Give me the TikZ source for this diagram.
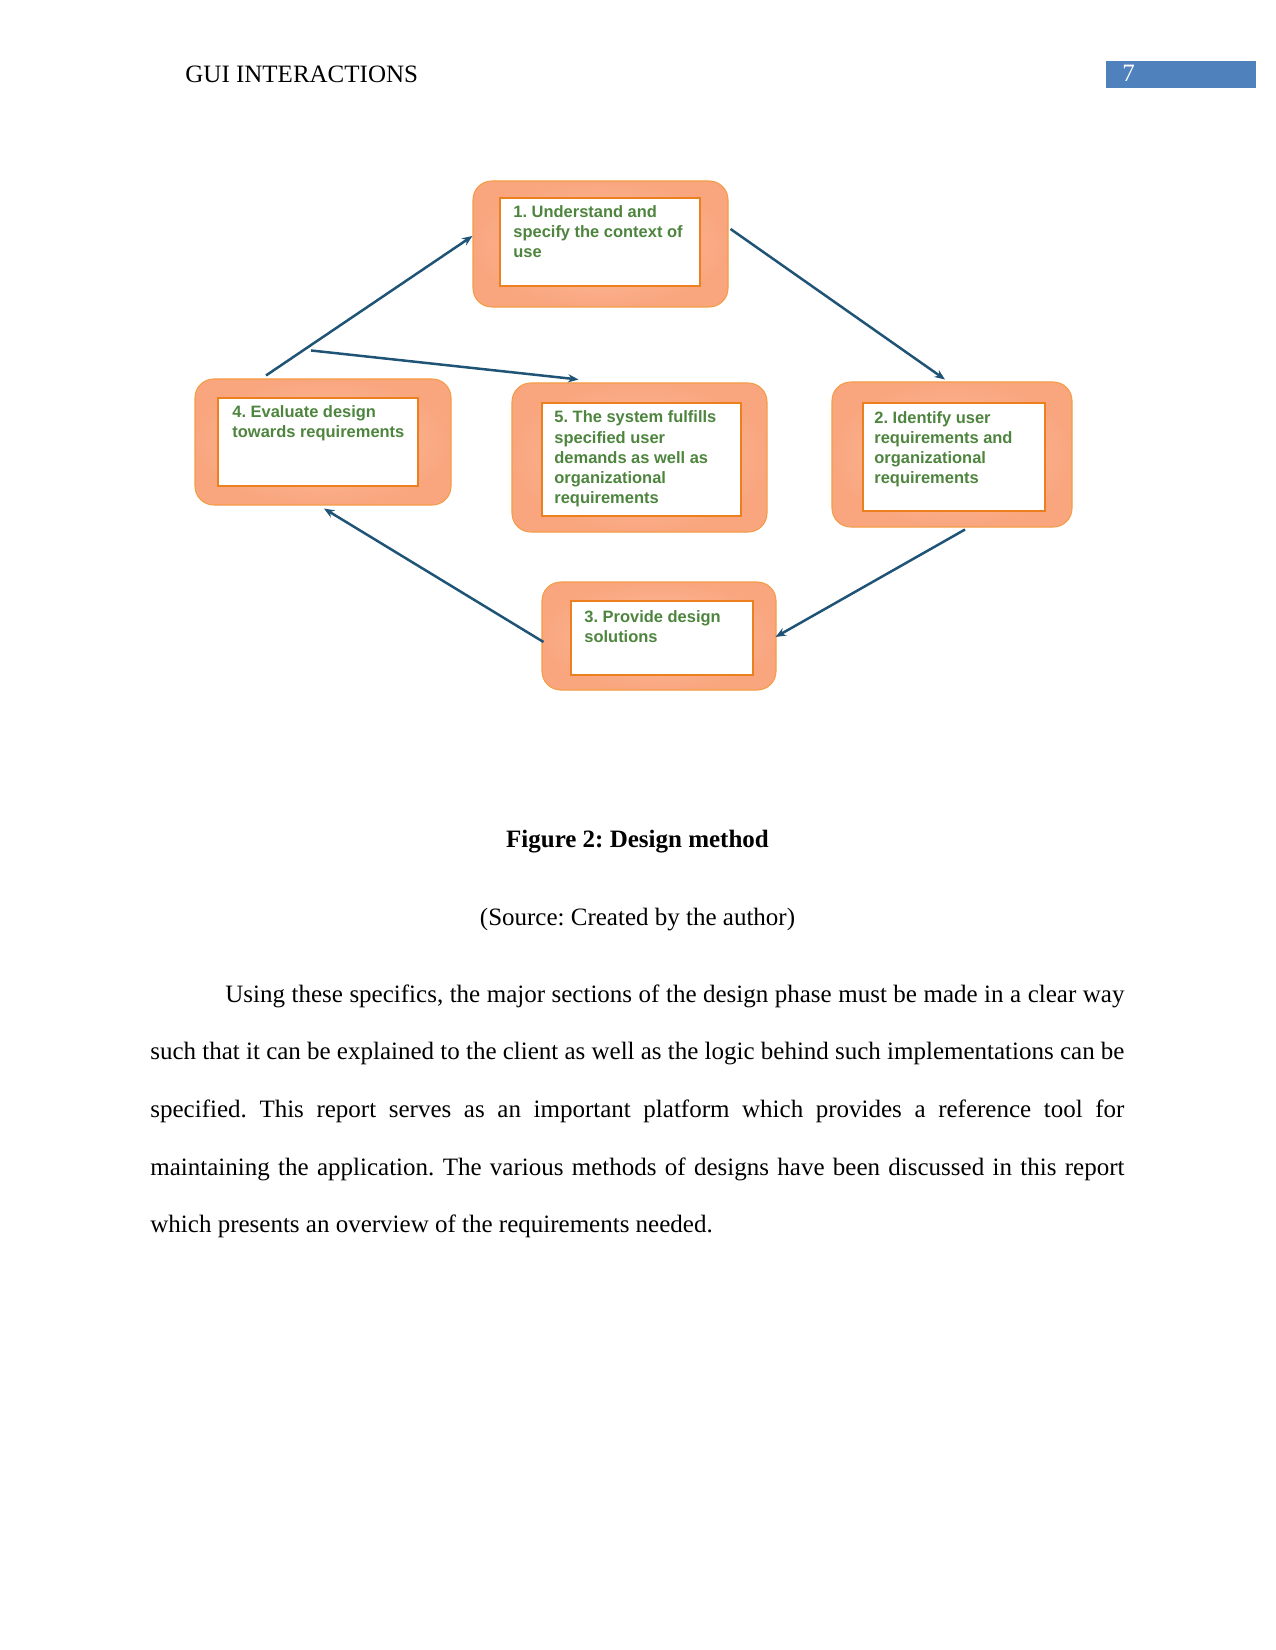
\documentclass[tikz,border=0pt]{standalone}
\usepackage{fontspec}
\setmainfont{Liberation Serif}
\newfontfamily\arialfont{Liberation Sans}
\usetikzlibrary{positioning,arrows.meta,calc}
\definecolor{salmonin}{RGB}{252,193,160}
\definecolor{salmonout}{RGB}{249,166,127}
\definecolor{boxline}{RGB}{243,156,70}
\definecolor{innerline}{RGB}{236,128,30}
\definecolor{stepgreen}{RGB}{78,133,62}
\definecolor{flowblue}{RGB}{31,84,118}
\definecolor{pageblue}{RGB}{79,129,189}
\frenchspacing
\begin{document}
\begin{tikzpicture}[
  x=0.48pt, y=-0.48pt,
  outerbox/.style={draw=boxline,line width=0.5pt,inner color=salmonin,outer color=salmonout,rounded corners=9pt,inner sep=0pt},
  innerbox/.style={draw=innerline,line width=0.8pt,fill=white,anchor=north west,inner sep=0pt},
  steptext/.style={anchor=base west,inner sep=0pt,align=left,text=stepgreen,font=\arialfont\bfseries\fontsize{7.9}{9.6}\selectfont},
  flow/.style={->,draw=flowblue,line width=1.2pt},
  body/.style={font=\fontsize{12}{27.7}\selectfont,inner sep=0pt},
  >={Stealth[length=5pt,width=4pt]}
]
\useasboundingbox (0,0) rectangle (1275,1650);

% page header
\node[body,anchor=base west] (head) at (185,83) {GUI INTERACTIONS};
\node[fill=pageblue,anchor=north west,minimum width=72pt,minimum height=12.96pt,inner sep=0pt] (pgbox) at (1106,61) {};
\node[body,text=white,anchor=base west] (pgnum) at (1122,82) {7};

% design cycle
\node[outerbox,minimum width=122.4pt,minimum height=60.48pt] (o1) at (600.5,244) {};
\node[outerbox,minimum width=115.2pt,minimum height=69.6pt] (o2) at (952,454.5) {};
\node[outerbox,minimum width=112.32pt,minimum height=51.84pt] (o3) at (659,636) {};
\node[outerbox,minimum width=122.88pt,minimum height=60.48pt] (o4) at (323,442) {};
\node[outerbox,minimum width=122.4pt,minimum height=71.52pt] (o5) at (639.5,457.5) {};

\node[innerbox,minimum width=96pt,minimum height=42.24pt] (i1) at (499,197) {};
\node[innerbox,minimum width=87.36pt,minimum height=51.84pt] (i2) at (862,402) {};
\node[innerbox,minimum width=87.36pt,minimum height=35.52pt] (i3) at (570,600) {};
\node[innerbox,minimum width=96pt,minimum height=42.24pt] (i4) at (217,397) {};
\node[innerbox,minimum width=95.52pt,minimum height=54.24pt] (i5) at (541,402) {};

% base = last line
\node[steptext] (t1) at (513,258) {1. Understand and\\specify the context of\\use};
\node[steptext] (t2) at (874,483) {2. Identify user\\requirements and\\organizational\\requirements};
\node[steptext] (t3) at (584,642) {3. Provide design\\solutions};
\node[steptext] (t4) at (232,438) {4. Evaluate design\\towards requirements};
\node[steptext] (t5) at (554,503) {5. The system fulfills\\specified user\\demands as well as\\organizational\\requirements};

\draw[flow] ($(o4.north)+(-57,-3)$) -- ($(o1.west)+(0,-8)$);
\draw[flow] ($(o1.east)+(2,-15)$) -- ($(o2.north)+(-7,-2)$);
\draw[flow] ($(o2.south)+(13,2)$) -- ($(o3.east)+(-1,1)$);
\draw[flow] ($(o3.west)+(2,6)$) -- ($(o4.south)+(1,3)$);
\draw[flow] ($(o4.north)+(-12,-28)$) -- ($(o5.north)+(-61,-3)$);

% caption and text
\node[body,font=\bfseries\fontsize{12}{14}\selectfont,anchor=base] (cap) at (637.5,847) {Figure 2: Design method};
\node[body,below=37.5pt of cap.base,anchor=base] (src) {(Source: Created by the author)};
\node[body,anchor=base west,text width=467.52pt,align=justify] (para) at (150,1002)
  {\hspace*{36pt}Using these specifics, the major sections of the design phase must be made in a clear way\linebreak
   such that it can be explained to the client as well as the logic behind such implementations can be\linebreak
   specified. This report serves as an important platform which provides a reference tool for\linebreak
   maintaining the application. The various methods of designs have been discussed in this report\linebreak
   which presents an overview of the requirements needed.};
\end{tikzpicture}
\end{document}
